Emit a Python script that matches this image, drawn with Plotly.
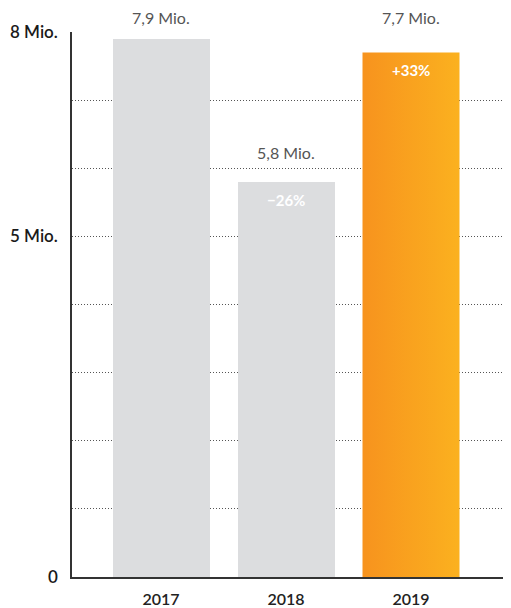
import plotly.graph_objects as go

years = ["2017", "2018", "2019"]
values = [7.9, 5.8, 7.7]
value_labels = ["7,9 Mio.", "5,8 Mio.", "7,7 Mio."]
change_labels = ["", "\u221226%", "+33%"]
ytick_vals = [0, 5, 8]
ytick_text = ["0", "5 Mio.", "8 Mio."]

FONT = "Lato"
GRAY = "#DCDDDF"
BAR_W = 0.776
idx = list(range(len(years)))

fig = go.Figure()

fig.add_trace(go.Bar(
    x=idx[:2], y=values[:2], width=BAR_W,
    marker=dict(color=GRAY, line=dict(width=0)),
    hoverinfo="skip", showlegend=False,
))
i = 2
x0, x1 = idx[i] - BAR_W / 2, idx[i] + BAR_W / 2
fig.add_trace(go.Scatter(
    x=[x0, x1, x1, x0, x0], y=[0, 0, values[i], values[i], 0],
    mode="lines", line=dict(width=0), fill="toself",
    fillcolor="#F9A01F",
    fillgradient=dict(type="horizontal",
                      colorscale=[[0, "#F7931E"], [1, "#FBB11F"]]),
    hoverinfo="skip", showlegend=False,
))

for k, (v, t) in enumerate(zip(values, value_labels)):
    if v > 7.5:
        fig.add_annotation(x=idx[k], y=8, xref="x", yref="y", text=t,
                           showarrow=False, yanchor="middle", yshift=15,
                           font=dict(family=FONT, size=16, color="#555555"))
    else:
        fig.add_annotation(x=idx[k], y=v, xref="x", yref="y", text=t,
                           showarrow=False, yanchor="middle", yshift=29,
                           font=dict(family=FONT, size=16, color="#555555"))
    if change_labels[k]:
        fig.add_annotation(x=idx[k], y=v, xref="x", yref="y",
                           text="<b>" + change_labels[k] + "</b>",
                           showarrow=False, yanchor="middle", yshift=-18,
                           font=dict(family=FONT, size=15, color="white"))

fig.update_layout(
    width=503, height=600,
    margin=dict(l=64, r=0, t=24, b=29),
    paper_bgcolor="white", plot_bgcolor="white",
    bargap=0, showlegend=False,
    xaxis=dict(
        range=[-0.712, 2.8], tickvals=idx, ticktext=years,
        showgrid=False, zeroline=False,
        showline=True, linecolor="#333333", linewidth=1.5,
        ticks="", ticklabelstandoff=7,
        tickfont=dict(family=FONT, size=16, color="#222222", weight=600),
    ),
    yaxis=dict(
        range=[0, 8], tickvals=ytick_vals, ticktext=ytick_text,
        showgrid=True, gridcolor="#555555", gridwidth=1, griddash="1px,2px",
        minor=dict(dtick=1, tick0=0, showgrid=True, gridcolor="#555555",
                   gridwidth=1, griddash="1px,2px", ticks=""),
        zeroline=False,
        showline=True, linecolor="#333333", linewidth=1.5,
        ticks="", ticklabelstandoff=9,
        tickfont=dict(family=FONT, size=17, color="#1a1a1a", weight=600),
    ),
    font=dict(family=FONT),
)

fig.write_html("out.html")
